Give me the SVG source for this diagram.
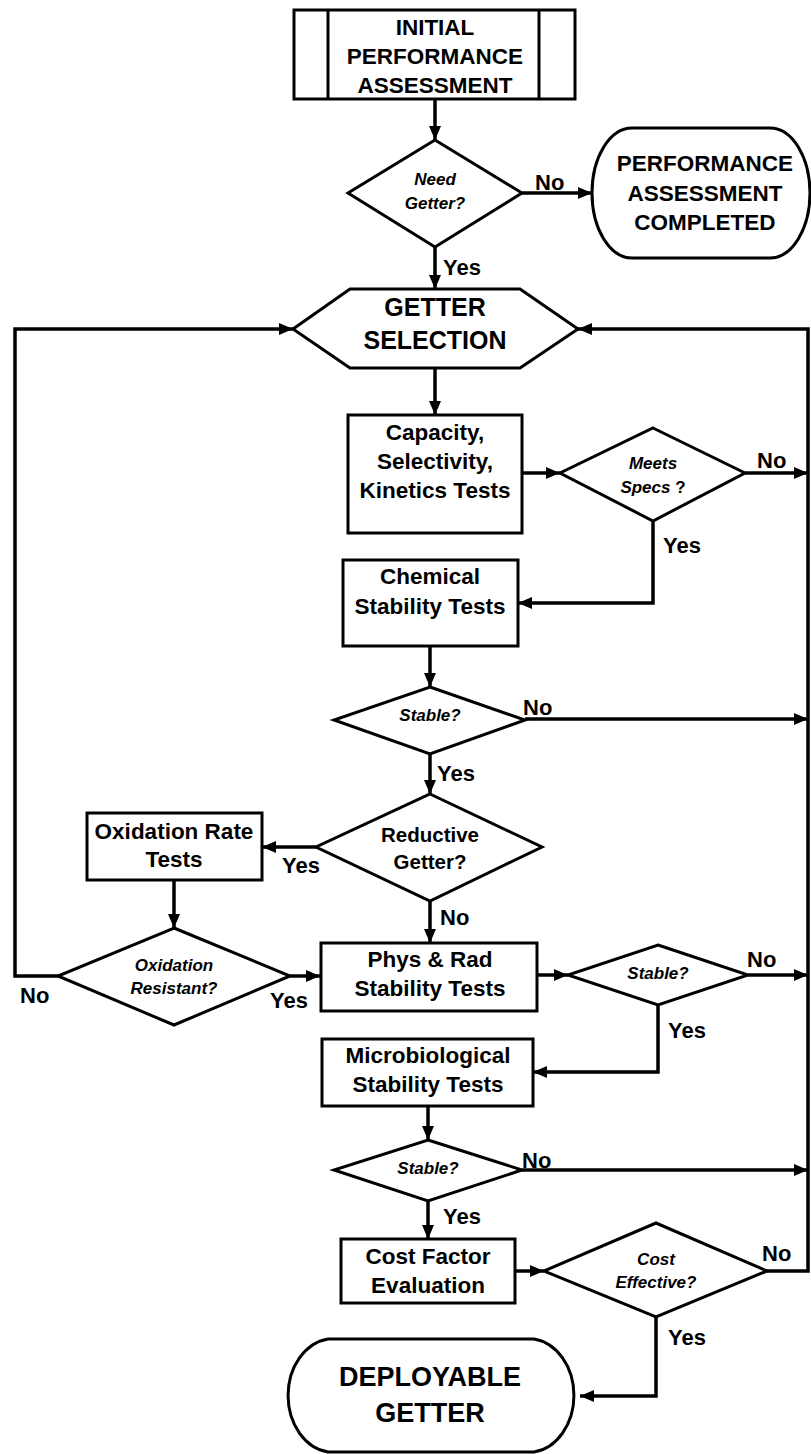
<svg xmlns="http://www.w3.org/2000/svg" width="811" height="1454" viewBox="0 0 811 1454">
<style>
.s{fill:#fff;stroke:#000;stroke-width:3}
.c{fill:none;stroke:#000;stroke-width:3.5;marker-end:url(#ah)}
.cn{fill:none;stroke:#000;stroke-width:3.5}
text{font-family:"Liberation Sans",Arial,sans-serif;font-weight:bold;fill:#000}
.t{font-size:22.5px;text-anchor:middle}
.q{font-size:17px;font-style:italic;text-anchor:middle}
.l{font-size:22px}
</style>
<defs>
<marker id="ah" markerUnits="userSpaceOnUse" markerWidth="14" markerHeight="12" refX="14" refY="6" orient="auto">
<path d="M0,0 L14,6 L0,12 z" fill="#000"/>
</marker>
</defs>
<rect width="811" height="1454" fill="#fff"/>
<g id="connectors">
<path class="c" d="M435,99 V140"/>
<path class="c" d="M522,193 H592"/>
<path class="c" d="M435,247 V289"/>
<path class="c" d="M435,368 V415"/>
<path class="c" d="M522,473 H560"/>
<path class="c" d="M745,473 H808"/>
<path class="c" d="M653,521 V603 H518"/>
<path class="c" d="M430,646 V687"/>
<path class="c" d="M525,719 H808"/>
<path class="c" d="M430,754 V794"/>
<path class="c" d="M316,847 H262"/>
<path class="c" d="M430,901 V943"/>
<path class="c" d="M174,880 V928"/>
<path class="c" d="M290,976 H320"/>
<path class="c" d="M58,976 H15 V329 H293"/>
<path class="c" d="M537,975 H568"/>
<path class="c" d="M748,975 H808"/>
<path class="c" d="M658,1005 V1072 H533"/>
<path class="c" d="M428,1106 V1140"/>
<path class="c" d="M522,1170 H808"/>
<path class="c" d="M428,1201 V1239"/>
<path class="c" d="M515,1271 H544"/>
<path class="c" d="M767,1271 H808 V329 H578"/>
<path class="c" d="M656,1317 V1396 H580"/>
<text class="l" x="535" y="190">No</text>
<text class="l" x="443" y="275">Yes</text>
<text class="l" x="757" y="468">No</text>
<text class="l" x="663" y="553">Yes</text>
<text class="l" x="523" y="715">No</text>
<text class="l" x="437" y="781">Yes</text>
<text class="l" x="282" y="873">Yes</text>
<text class="l" x="440" y="925">No</text>
<text class="l" x="20" y="1003">No</text>
<text class="l" x="270" y="1008">Yes</text>
<text class="l" x="747" y="967">No</text>
<text class="l" x="668" y="1038">Yes</text>
<text class="l" x="522" y="1168">No</text>
<text class="l" x="443" y="1224">Yes</text>
<text class="l" x="762" y="1261">No</text>
<text class="l" x="668" y="1345">Yes</text>
</g>
<g id="initial">
<rect class="s" x="294" y="10" width="281" height="89"/>
<path class="s" d="M328,10 V99 M539,10 V99"/>
<text class="t" x="435" y="35">INITIAL</text>
<text class="t" x="435" y="64">PERFORMANCE</text>
<text class="t" x="435" y="93">ASSESSMENT</text>
</g>
<g id="need-getter">
<path class="s" d="M435,140 L522,193 L435,247 L348,193 z"/>
<text class="q" x="435" y="185">Need</text>
<text class="q" x="435" y="209">Getter?</text>
</g>
<g id="completed">
<path class="s" d="M632,128 H770 A40,65 0 0 1 770,258 H632 A40,65 0 0 1 632,128 z"/>
<text class="t" x="705" y="171">PERFORMANCE</text>
<text class="t" x="705" y="201">ASSESSMENT</text>
<text class="t" x="705" y="230">COMPLETED</text>
</g>
<g id="getter-selection">
<path class="s" d="M350,289 H520 L578,329 L520,368 H350 L293,329 z"/>
<text class="t" x="435" y="316" style="font-size:25px">GETTER</text>
<text class="t" x="435" y="349" style="font-size:25px">SELECTION</text>
</g>
<g id="capacity">
<rect class="s" x="348" y="415" width="174" height="118"/>
<text class="t" x="435" y="440">Capacity,</text>
<text class="t" x="435" y="469">Selectivity,</text>
<text class="t" x="435" y="498">Kinetics Tests</text>
</g>
<g id="meets-specs">
<path class="s" d="M653,428 L745,473 L653,521 L560,473 z"/>
<text class="q" x="653" y="469">Meets</text>
<text class="q" x="653" y="493">Specs <tspan style="font-style:normal">?</tspan></text>
</g>
<g id="chemical">
<rect class="s" x="343" y="560" width="175" height="86"/>
<text class="t" x="430" y="584">Chemical</text>
<text class="t" x="430" y="614">Stability Tests</text>
</g>
<g id="stable1">
<path class="s" d="M430,687 L525,720 L430,754 L334,720 z"/>
<text class="q" x="430" y="721">Stable?</text>
</g>
<g id="reductive">
<path class="s" d="M430,794 L542,847 L430,901 L316,847 z"/>
<text class="t" x="430" y="842" style="font-size:20.5px">Reductive</text>
<text class="t" x="430" y="869" style="font-size:20.5px">Getter?</text>
</g>
<g id="oxidation-rate">
<rect class="s" x="87" y="813" width="175" height="67"/>
<text class="t" x="174" y="839">Oxidation Rate</text>
<text class="t" x="174" y="867">Tests</text>
</g>
<g id="oxidation-resistant">
<path class="s" d="M174,928 L290,976 L174,1025 L58,976 z"/>
<text class="q" x="174" y="971">Oxidation</text>
<text class="q" x="174" y="994">Resistant?</text>
</g>
<g id="phys-rad">
<rect class="s" x="321" y="943" width="216" height="68"/>
<text class="t" x="430" y="967">Phys &amp; Rad</text>
<text class="t" x="430" y="996">Stability Tests</text>
</g>
<g id="stable2">
<path class="s" d="M658,945 L748,975 L658,1005 L568,975 z"/>
<text class="q" x="658" y="979">Stable?</text>
</g>
<g id="microbiological">
<rect class="s" x="322" y="1039" width="211" height="67"/>
<text class="t" x="428" y="1063">Microbiological</text>
<text class="t" x="428" y="1092">Stability Tests</text>
</g>
<g id="stable3">
<path class="s" d="M428,1140 L522,1170 L428,1201 L334,1170 z"/>
<text class="q" x="428" y="1174">Stable?</text>
</g>
<g id="cost-factor">
<rect class="s" x="341" y="1239" width="174" height="64"/>
<text class="t" x="428" y="1264">Cost Factor</text>
<text class="t" x="428" y="1293">Evaluation</text>
</g>
<g id="cost-effective">
<path class="s" d="M656,1223 L767,1271 L656,1317 L544,1271 z"/>
<text class="q" x="656" y="1265">Cost</text>
<text class="q" x="656" y="1288">Effective?</text>
</g>
<g id="deployable">
<path class="s" d="M328,1339 H534 A46,57 0 0 1 534,1452 H328 A46,57 0 0 1 328,1339 z"/>
<text class="t" x="430" y="1386" style="font-size:27px">DEPLOYABLE</text>
<text class="t" x="430" y="1422" style="font-size:27px">GETTER</text>
</g>
</svg>
